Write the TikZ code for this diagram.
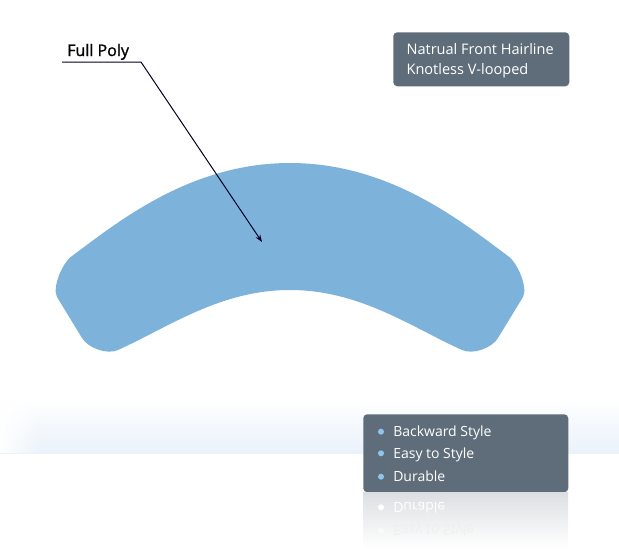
\documentclass[tikz,border=0pt]{standalone}
\usepackage{fontspec}
\setmainfont{Open Sans}
\newfontfamily\labelfont{Open Sans}[FakeBold=1.2]
\usepackage{tikz}
\usetikzlibrary{positioning,arrows.meta,fadings}
\definecolor{polyblue}{HTML}{7DB2DB}
\definecolor{slatebox}{HTML}{5F6D7A}
\definecolor{dotblue}{HTML}{8EC5EE}
\definecolor{bandblue}{HTML}{EAF2FA}
\tikzset{
  infobox/.style={fill=slatebox, rounded corners=3pt, inner sep=0pt},
  boxtext/.style={text=white, align=left, inner sep=0pt, font=\fontsize{10.9}{15}\selectfont},
  itemtext/.style={text=white, inner sep=0pt, anchor=base west, font=\fontsize{10.5}{13}\selectfont},
  bulletdot/.style={circle, fill=dotblue, inner sep=0pt, minimum size=4.5pt}
}

\begin{document}
\begin{tikzpicture}[x=0.75pt, y=-0.75pt, >=Stealth]
    \useasboundingbox (0,0) rectangle (619,551);

    % Light band behind the lower box
    \shade[top color=white, bottom color=bandblue] (0,398) rectangle (619,453);
    \fill[white, path fading=east] (0,398) rectangle (40,453);

    % Arch shaped base
    \fill[polyblue] (72,256) .. controls (118,222) and (190,163) .. (290,163)
        .. controls (390,163) and (462,222) .. (508,256)
        .. controls (518,263) and (528,288) .. (523,297)
        -- (498,338)
        .. controls (492,348) and (473,355) .. (462,350)
        .. controls (412,327.5) and (360,290) .. (290,290)
        .. controls (220,290) and (168,327.5) .. (118,350)
        .. controls (107,355) and (88,348) .. (82,338)
        -- (57,297)
        .. controls (52,288) and (62,263) .. (72,256) -- cycle;

    % Leader label
    \node[anchor=base west, inner sep=0pt, font=\labelfont\fontsize{12}{14}\selectfont] (fullpoly) at (67,56) {Full Poly};
    \coordinate (leadstart) at (62,62);
    \coordinate (leadbend) at (141,62);
    \coordinate (polytip) at (262,242);
    \draw[line width=0.75pt, black!85!blue, arrows={-Stealth[length=5.5pt, width=4pt]}] (leadstart) -- (leadbend) -- (polytip);

    % Top right box
    \node[infobox, minimum width=132pt, minimum height=40.5pt, anchor=north west] (hairbox) at (393,32) {};
    \node[boxtext, anchor=west] (hairtext) at ([xshift=10pt, yshift=-1pt]hairbox.west) {Natrual Front Hairline\\Knotless V-looped};

    % Feature box
    \node[infobox, minimum width=153.75pt, minimum height=58.5pt, anchor=north west] (featbox) at (363,414) {};
    \node[bulletdot] (dotback) at (381,431.7) {};
    \node[bulletdot] (doteasy) at (381,453.3) {};
    \node[bulletdot] (dotdur) at (381,476.7) {};
    \node[itemtext] (itemback) at (393,436) {Backward Style};
    \node[itemtext] (itemeasy) at (393,458.3) {Easy to Style};
    \node[itemtext] (itemdur) at (393,481.7) {Durable};

    % Reflection
    \shade[top color=slatebox!22, bottom color=white] (363,492) rectangle (568,548);
    \begin{scope}[yshift=-738pt, yscale=-1, transform shape]
        \node[bulletdot, fill=white] (mirdotdur) at (381,476.7) {};
        \node[itemtext] (mirdur) at (393,481.7) {Durable};
        \node[bulletdot, fill=white, opacity=0.5] (mirdoteasy) at (381,453.3) {};
        \node[itemtext, text=white!85!gray, text opacity=0.6] (mireasy) at (393,458.3) {Easy to Style};
    \end{scope}
\end{tikzpicture}
\end{document}
